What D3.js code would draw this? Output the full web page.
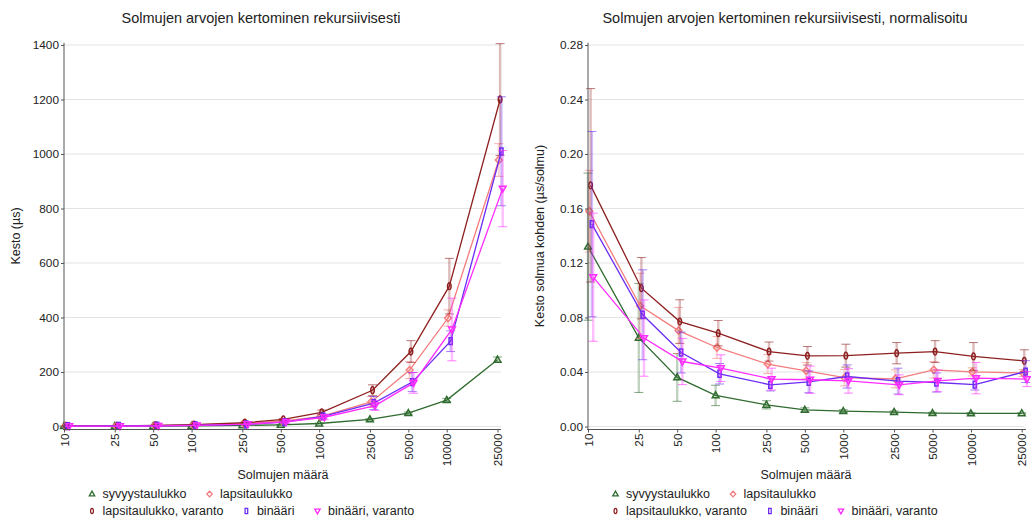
<!DOCTYPE html>
<html><head><meta charset="utf-8">
<script src="https://cdn.jsdelivr.net/npm/d3@7"></script>
<style>
html,body{margin:0;padding:0;background:#fff;}
svg{display:block;font-family:"Liberation Sans",Arial,sans-serif;}
</style></head>
<body><svg id="c" width="1031" height="519"></svg>
<script>
const nodeCounts = [10,25,50,100,250,500,1000,2500,5000,10000,25000];
const seriesNames = ["syvyystaulukko","lapsitaulukko","lapsitaulukko, varanto","binääri","binääri, varanto"];
const seriesColors = ["#2f6b2f","#f47c7c","#8e1f1f","#6b2cf5","#ff2bff"];
const seriesShapes = ["triUp","diamond","ellipse","rect","triDown"];

// Left chart: duration (µs)
const durGreen   = [1.3,1.6,1.8,2.3,4.0,6.2,11,26,49,97,245];
const durPink    = [1.6,2.2,3.5,5.8,11.5,20,36,90,207,398,978];
const durMaroon  = [1.8,2.5,3.9,6.9,13.8,26,52,133,275,515,1200];
const durBlue    = [1.5,2.05,2.7,3.9,7.7,16.4,37,86,163,313,1010];
const durMagenta = [1.1,1.6,2.4,4.2,8.6,17,34,77,160,356,873];
const errGreen   = [0.5,1.0,0.9,0.8,0.8,1.0,1.5,3,4,6,10];
const errPink    = [0.3,0.6,0.8,0.8,1.8,3,6,20,31,30,60];
const errMaroon  = [0.7,0.6,0.8,0.95,1.8,3.5,8.5,20,40,102,205];
const errBlue    = [0.7,0.8,0.75,0.7,1.1,4,9,24,35,38,200];
const errMagenta = [0.5,0.7,0.8,1.2,2,5,9,18,38,115,140];

// Right chart: duration per node (µs/solmu)
const normGreen   = [0.132,0.065,0.036,0.0228,0.0159,0.0122,0.0113,0.0106,0.0098,0.0096,0.0097];
const normPink    = [0.158,0.0885,0.0704,0.058,0.0458,0.0409,0.0358,0.035,0.0416,0.0401,0.0392];
const normMaroon  = [0.177,0.1015,0.077,0.0685,0.055,0.0519,0.052,0.0538,0.055,0.0514,0.0482];
const normBlue    = [0.1485,0.082,0.0543,0.0387,0.0306,0.0328,0.0367,0.0333,0.0323,0.0308,0.0403];
const normMagenta = [0.1096,0.0649,0.0477,0.0428,0.0348,0.0343,0.0335,0.0306,0.0335,0.0355,0.0348];
const nerrGreen   = [0.054,0.040,0.0175,0.0075,0.003,0.0015,0.001,0.0008,0.0006,0.0005,0.0004];
const nerrPink    = [0.03,0.024,0.017,0.008,0.007,0.006,0.006,0.0066,0.006,0.003,0.0025];
const nerrMaroon  = [0.071,0.0225,0.016,0.0093,0.007,0.0068,0.0084,0.0078,0.008,0.0102,0.0081];
const nerrBlue    = [0.068,0.033,0.015,0.0075,0.0045,0.008,0.0085,0.0095,0.007,0.004,0.008];
const nerrMagenta = [0.047,0.028,0.017,0.0098,0.008,0.01,0.009,0.0073,0.008,0.0115,0.0055];

const leftTicks = [0,200,400,600,800,1000,1200,1400];
const rightTicks = [0,0.04,0.08,0.12,0.16,0.20,0.24,0.28];

const titles = ["Solmujen arvojen kertominen rekursiivisesti","Solmujen arvojen kertominen rekursiivisesti, normalisoitu"];
const yTitles = ["Kesto (µs)","Kesto solmua kohden (µs/solmu)"];
const xTitle = "Solmujen määrä";

const svg = d3.select("#c");
const dodge = [0,1.3,2.6,3.9,5.2];

function markerPath(shape){
  if(shape==="triUp") return "M0,-3.6L3.4,2.4L-3.4,2.4Z";
  if(shape==="triDown") return "M0,3.6L3.4,-2.4L-3.4,-2.4Z";
  if(shape==="diamond") return "M0,-3.6L3.4,0L0,3.6L-3.4,0Z";
  if(shape==="rect") return "M-1.6,-3.4L1.6,-3.4L1.6,3.4L-1.6,3.4Z";
  return "M0,-3.4A1.8,3.4 0 1,1 0,3.4A1.8,3.4 0 1,1 0,-3.4Z";
}

function drawPanel(cfg){
  const g = svg.append("g");
  const x = d3.scaleLog().domain([10,25000]).range([cfg.x0,cfg.x1]);
  const y = d3.scaleLinear().domain([0,cfg.yMax]).range([cfg.yBot,cfg.yTop]);

  // gridlines
  g.append("g").selectAll("line").data(cfg.ticks).join("line")
    .attr("x1",cfg.x0).attr("x2",cfg.gridEnd)
    .attr("y1",d=>y(d)).attr("y2",d=>y(d))
    .attr("stroke","#e3e3e3").attr("stroke-width",1);

  // series
  cfg.means.forEach((vals,si)=>{
    const errs = cfg.errs[si];
    const col = seriesColors[si];
    const pts = nodeCounts.map((n,i)=>({px:x(n)+dodge[si], v:vals[i], e:errs[i]}));
    const sg = g.append("g");
    const eb = sg.append("g").attr("stroke",col);
    pts.forEach(p=>{
      const yt=y(p.v+p.e), yb=y(p.v-p.e);
      eb.append("line").attr("x1",p.px).attr("x2",p.px).attr("y1",yt).attr("y2",yb)
        .attr("stroke-width",2.4).attr("stroke-opacity",0.3);
      eb.append("line").attr("x1",p.px-4.5).attr("x2",p.px+4.5).attr("y1",yt).attr("y2",yt)
        .attr("stroke-width",1).attr("stroke-opacity",0.6);
      eb.append("line").attr("x1",p.px-4.5).attr("x2",p.px+4.5).attr("y1",yb).attr("y2",yb)
        .attr("stroke-width",1).attr("stroke-opacity",0.6);
    });
    sg.append("path").datum(pts)
      .attr("d",d3.line().x(p=>p.px).y(p=>y(p.v)))
      .attr("fill","none").attr("stroke",col).attr("stroke-width",1.3);
    sg.append("g").selectAll("path").data(pts).join("path")
      .attr("transform",p=>`translate(${p.px},${y(p.v)})`)
      .attr("d",markerPath(seriesShapes[si]))
      .attr("fill","none").attr("stroke",col).attr("stroke-width",1.5);
  });

  // y axis
  const ya = g.append("g").attr("transform",`translate(${cfg.x0},0)`)
    .call(d3.axisLeft(y).tickValues(cfg.ticks).tickFormat(cfg.fmt).tickSize(3).tickPadding(2));
  ya.select(".domain").attr("d",`M0,${cfg.yTop-2.3}V${cfg.axisY}`).attr("stroke","#555");
  ya.selectAll(".tick line").attr("stroke","#555");
  ya.selectAll("text").attr("font-size","11.8px").attr("fill","#222").attr("font-family","Liberation Sans, Arial, sans-serif");

  // x axis
  const xa = g.append("g").attr("transform",`translate(0,${cfg.axisY})`)
    .call(d3.axisBottom(x).tickValues(nodeCounts).tickFormat(d3.format("d")).tickSize(3).tickPadding(2));
  xa.select(".domain").attr("d",`M${cfg.x0-1},0H${cfg.axisEnd}`).attr("stroke","#555");
  xa.selectAll(".tick line").attr("stroke","#555");
  xa.selectAll("text").attr("font-size","11.8px").attr("fill","#222")
    .attr("font-family","Liberation Sans, Arial, sans-serif")
    .attr("transform","rotate(-90)").attr("text-anchor","end")
    .attr("x",-4).attr("y",0).attr("dy","0.35em");

  // titles
  svg.append("text").attr("x",cfg.titleX).attr("y",23).attr("text-anchor","middle")
    .attr("font-size","14.5px").attr("fill","#222").text(cfg.title);
  svg.append("text").attr("transform",`translate(${cfg.yTitleX},${236}) rotate(-90)`)
    .attr("text-anchor","middle").attr("dy","0.35em")
    .attr("font-size","12.5px").attr("fill","#222").text(cfg.yTitle);
  svg.append("text").attr("x",cfg.xTitleX).attr("y",479).attr("text-anchor","middle")
    .attr("font-size","12.5px").attr("fill","#222").text(xTitle);

  // legend (flow layout, two rows)
  const rows = [[0,1],[2,3,4]];
  const rowY = [494,511];
  rows.forEach((row,ri)=>{
    let cx = cfg.legendX;
    row.forEach(si=>{
      const lg = svg.append("g");
      lg.append("path").attr("transform",`translate(${cx},${rowY[ri]}) scale(0.8)`)
        .attr("d",markerPath(seriesShapes[si])).attr("fill","none")
        .attr("stroke",seriesColors[si]).attr("stroke-width",1.6);
      const t = lg.append("text").attr("x",cx+10.5).attr("y",rowY[ri]).attr("dy","0.35em")
        .attr("font-size","12.5px").attr("fill","#222").text(seriesNames[si]);
      const w = t.node().getComputedTextLength();
      cx = cx + 10.5 + w + 23;
    });
  });
}

drawPanel({x0:64,x1:497.5,axisEnd:501,gridEnd:501,yTop:45,yBot:426.5,axisY:429.5,yMax:1400,
  ticks:leftTicks,fmt:d3.format("d"),
  means:[durGreen,durPink,durMaroon,durBlue,durMagenta],
  errs:[errGreen,errPink,errMaroon,errBlue,errMagenta],
  title:titles[0],titleX:261,yTitle:yTitles[0],yTitleX:16,xTitleX:283,legendX:92});

drawPanel({x0:588,x1:1021.7,axisEnd:1026,gridEnd:1024,yTop:45,yBot:426.5,axisY:429.5,yMax:0.28,
  ticks:rightTicks,fmt:d3.format(".2f"),
  means:[normGreen,normPink,normMaroon,normBlue,normMagenta],
  errs:[nerrGreen,nerrPink,nerrMaroon,nerrBlue,nerrMagenta],
  title:titles[1],titleX:785,yTitle:yTitles[1],yTitleX:540,xTitleX:806,legendX:615.5});
</script></body></html>
